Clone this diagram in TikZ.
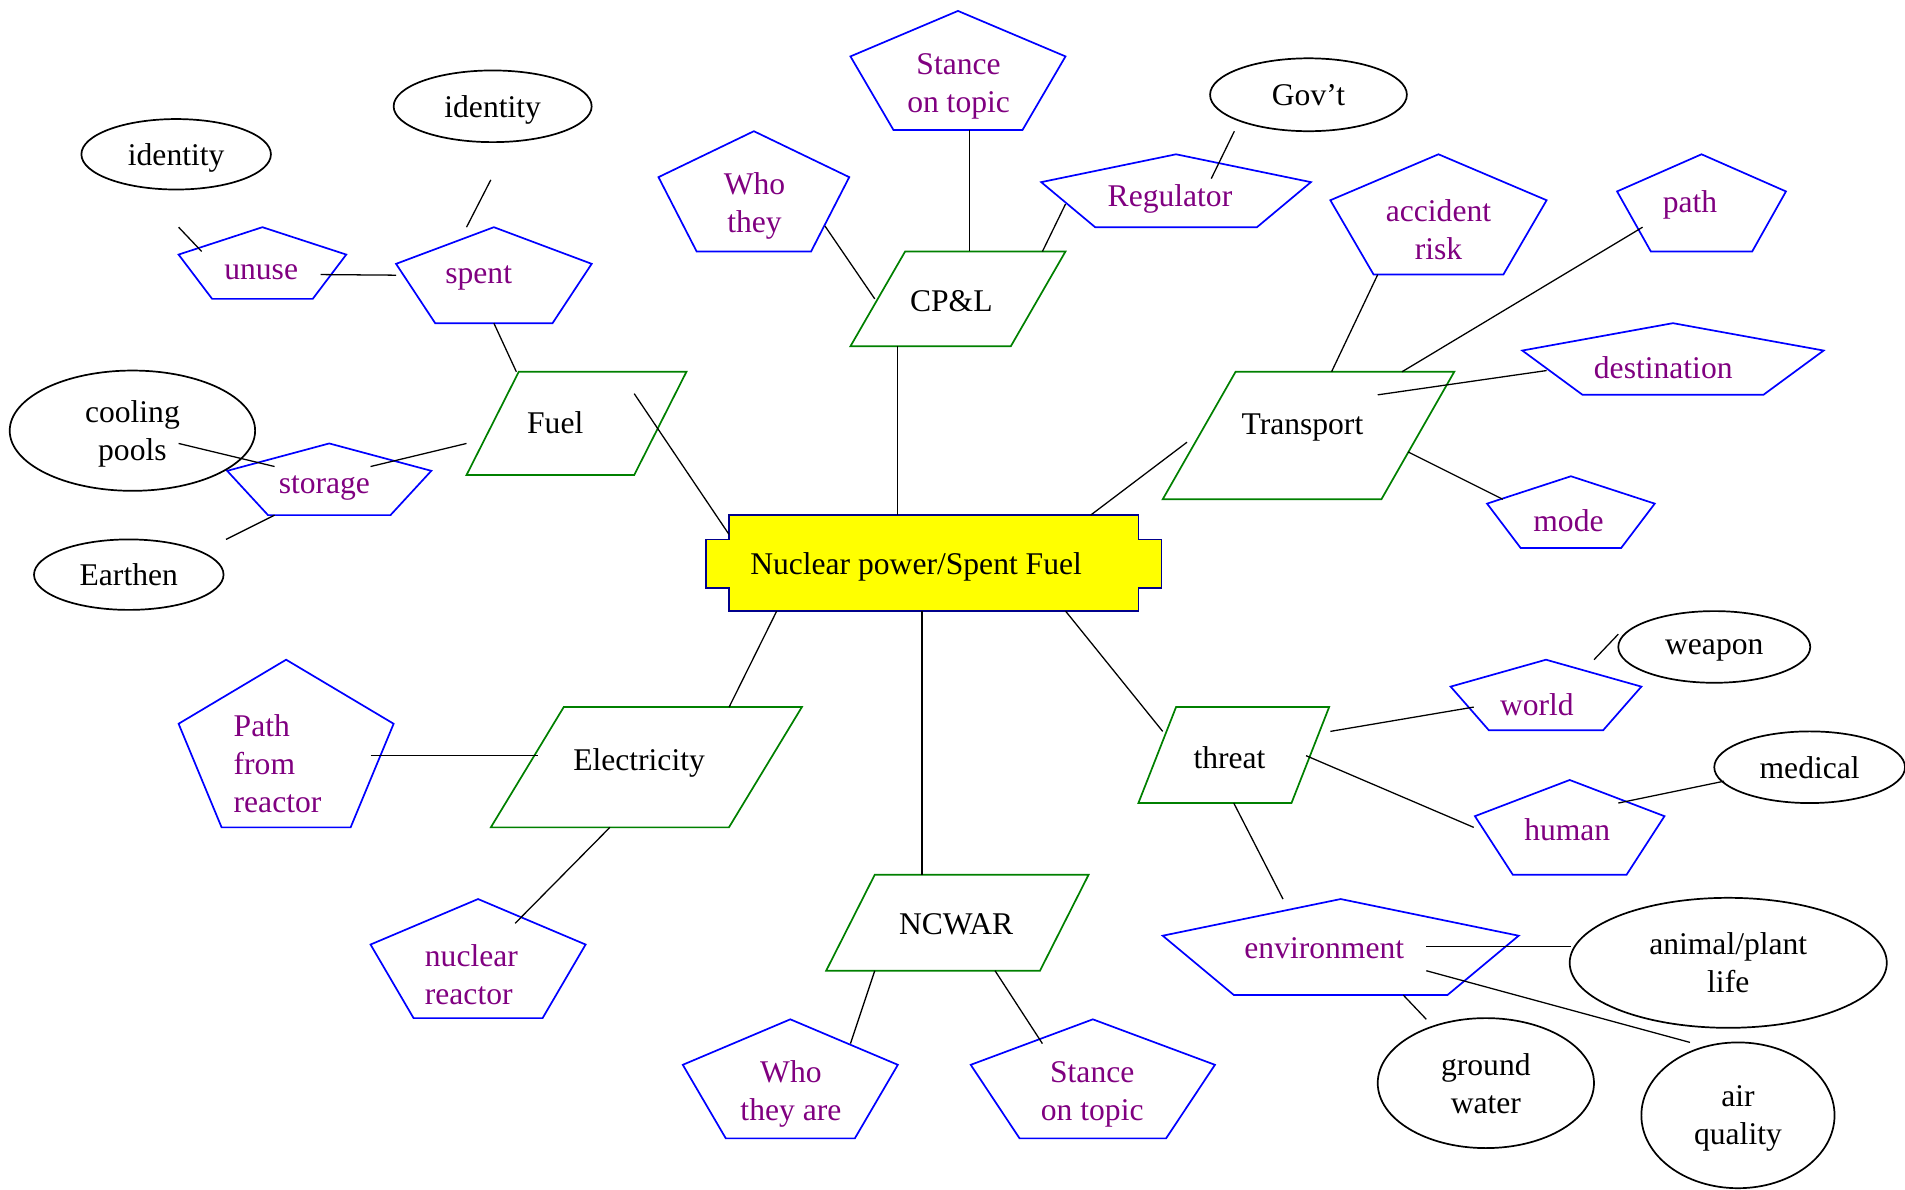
\documentclass[tikz,border=0pt]{standalone}
\usepackage{fontspec}
\setmainfont{Liberation Serif}
\usetikzlibrary{shapes.geometric,calc}

\definecolor{pentblue}{RGB}{0,0,255}
\definecolor{attrpurple}{RGB}{128,0,128}
\definecolor{paragreen}{RGB}{0,128,0}
\definecolor{npnavy}{RGB}{0,0,140}
\definecolor{npyellow}{RGB}{255,255,0}

% pentagon: [text opts] name, centre, width, height, text position, text
\newcommand\pent[7][]{%
  \node[shapebox, minimum width=#4*0.02cm, minimum height=#5*0.02cm] (#2) at (#3) {};
  \draw[pentline] (#2.north)
    -- ($(#2.north east)!.382!(#2.south east)$)
    -- ($(#2.south east)!.2!(#2.south west)$)
    -- ($(#2.south west)!.2!(#2.south east)$)
    -- ($(#2.north west)!.382!(#2.south west)$) -- cycle;
  \node[penttext,#1] (#2-txt) at (#6) {#7};
}
% parallelogram: name, centre, width, height, slant, text position, text
\newcommand\para[7]{%
  \node[shapebox, minimum width=#3*0.02cm, minimum height=#4*0.02cm] (#1) at (#2) {};
  \draw[paraline] ([xshift=#5*0.02cm]#1.north west) -- (#1.north east)
    -- ([xshift=-#5*0.02cm]#1.south east) -- (#1.south west) -- cycle;
  \node[paratext] (#1-txt) at (#6) {#7};
}

\begin{document}
\begin{tikzpicture}[x=0.02cm, y=-0.02cm,
  every node/.style = {font=\fontsize{14.8}{17.8}\selectfont},
  shapebox/.style = {draw=none, inner sep=0pt, outer sep=0pt},
  pentline/.style = {draw=pentblue, line width=0.8pt, line join=miter},
  penttext/.style = {text=attrpurple, align=center, inner sep=0pt, yshift=-1pt},
  paraline/.style = {draw=paragreen, line width=0.8pt},
  paratext/.style = {align=center, inner sep=0pt, yshift=-1pt},
  oval/.style = {shape=ellipse, draw, line width=0.8pt, align=center,
    inner sep=0pt, text depth=0pt},
  link/.style = {draw, line width=0.6pt}]
\useasboundingbox (0,0) rectangle (1568,979);

% central topic
\draw[fill=npyellow, draw=npnavy, line width=0.8pt] (600,424) -- (937,424) -- (937,444)
  -- (956,444) -- (956,484) -- (937,484) -- (937,503) -- (600,503) -- (600,484)
  -- (581,484) -- (581,444) -- (600,444) -- cycle;
\node[shapebox, minimum width=337*0.02cm, minimum height=79*0.02cm] (np) at (768.5,463.5) {};
\node[paratext] (np-txt) at (754,465) {Nuclear power/Spent Fuel};

% entities
\para{fuel}{474.5,348.5}{181}{85}{43}{457,346}{Fuel}
\para{cpl}{788.5,246}{177}{78}{45}{783,246}{CP\&L}
\para{tr}{1077,358.5}{240}{105}{60}{1072,350}{Transport}
\para{elec}{532,631.5}{256}{99}{60}{526,626}{Electricity}
\para{threat}{1015.5,621.5}{157}{79}{31}{1012,622}{threat}
\para{ncwar}{788,759.5}{216}{79}{40}{787,759}{NCWAR}

% attributes
\pent{unuse}{216,216.5}{138}{59}{215,222}{unuse}
\pent{spent}{406.5,226.5}{161}{79}{394,227}{spent}
\pent{storage}{271,394.5}{168}{59}{267,400}{storage}
\pent{who}{620.5,157.5}{157}{99}{621,167.5}{Who\\they}
\pent{stance}{788.5,58}{177}{98}{789,69}{Stance\\on topic}
\pent{reg}{968,157}{222}{60}{963,162}{Regulator}
\pent{acc}{1184,176.5}{178}{99}{1184,187.5}{accident\\risk}
\pent{tpath}{1400.5,167}{139}{80}{1391,167}{path}
\pent{dest}{1377,295.5}{248}{59}{1369,301}{destination}
\pent{mode}{1293,421.5}{138}{59}{1291,427}{mode}
\pent[anchor=west, align=left]{pfr}{235.5,612}{177}{138}{192,627}{Path\\from\\reactor}
\pent[align=left]{nucr}{393.5,789}{177}{98}{388,800.5}{nuclear\\reactor}
\pent{whoare}{650.5,888}{177}{98}{651,899}{Who\\they are}
\pent{stance2}{899.5,888}{201}{98}{899,899}{Stance\\on topic}
\pent{world}{1272.5,572}{157}{58}{1265,578}{world}
\pent{human}{1292,681}{156}{78}{1290,681}{human}
\pent{env}{1103.5,779.5}{293}{79}{1090,779}{environment}

% values
\node[oval, minimum width=156*0.02cm, minimum height=58*0.02cm] (idl) at (145,127) {identity};
\node[oval, minimum width=163*0.02cm, minimum height=59*0.02cm] (idt) at (405.5,87.5) {identity};
\node[oval, minimum width=202*0.02cm, minimum height=99*0.02cm] (cool) at (109,354.5) {cooling\\pools};
\node[oval, minimum width=156*0.02cm, minimum height=58*0.02cm] (earth) at (106,473) {Earthen};
\node[oval, minimum width=162*0.02cm, minimum height=60*0.02cm] (gov) at (1077,78) {Gov’t};
\node[oval, minimum width=158*0.02cm, minimum height=59*0.02cm] (weapon) at (1411,532.5) {weapon};
\node[oval, minimum width=157*0.02cm, minimum height=59*0.02cm] (medical) at (1489.5,631.5) {medical};
\node[oval, minimum width=261*0.02cm, minimum height=107*0.02cm] (animal) at (1422.5,792.5) {animal/plant\\life};
\node[oval, minimum width=178*0.02cm, minimum height=107*0.02cm] (ground) at (1223,891.5) {ground\\water};
\node[oval, minimum width=159*0.02cm, minimum height=120*0.02cm] (air) at (1430.5,918) {air\\quality};

% links to the topic
\draw[link] ($(fuel.center)+(47.5,-24.5)$) -- (np.172);
\draw[link] ($(cpl.center)+(-49.5,39)$) coordinate (cpl-np) -- (cpl-np |- np.north);
\draw[link] ($(tr.center)+(-100,5.5)$) -- (np.17);
\draw[link] (elec.36) -- (np.197);
\draw[link] ($(ncwar.center)+(-29,-39.5)$) coordinate (ncwar-np) -- (ncwar-np |- np.south);
\draw[link] ($(threat.center)+(-58.5,-19.5)$) -- (np.340);

% Fuel
\draw[link] (spent.south) -- ($(fuel.center)+(-49.5,-42.5)$);
\draw[link] ($(storage.center)+(34,-10.5)$) -- ($(fuel.center)+(-90.5,16.5)$);
\draw[link] ($(unuse.center)+(48,9.5)$) -- (spent.west);
\draw[link] ($(idl.center)+(2,60)$) -- ($(unuse.center)+(-50,-9.5)$);
\draw[link] ($(spent.center)+(-22.5,-39.5)$) -- ($(idt.center)+(-1.5,60.5)$);
\draw[link] ($(cool.center)+(38,10.5)$) -- ($(storage.center)+(-45,-10.5)$);
\draw[link] ($(earth.center)+(80,-29)$) -- ($(storage.center)+(-45,29.5)$);

% CP&L
\draw[link] ($(who.center)+(58.5,28.5)$) -- ($(cpl.center)+(-68.5,0)$);
\draw[link] ($(stance.south)+(9.5,0)$) coordinate (st-cpl) -- (st-cpl |- cpl.north);
\draw[link] ($(reg.center)+(-91,11)$) -- ($(cpl.center)+(69.5,-39)$);
\draw[link] ($(reg.center)+(29,-10)$) -- ($(gov.center)+(-61,30)$);

% Transport
\draw[link] ($(acc.center)+(-50,49.5)$) -- ($(tr.center)+(19,-52.5)$);
\draw[link] ($(tpath.center)+(-48.5,20)$) -- ($(tr.center)+(77,-52.5)$);
\draw[link] ($(dest.center)+(-104,9.5)$) -- ($(tr.center)+(57,-33.5)$);
\draw[link] ($(mode.center)+(-56,-10.5)$) -- ($(tr.center)+(82,13.5)$);

% Electricity and NCWAR
\draw[link] ($(pfr.center)+(69.5,10)$) -- ($(elec.center)+(-89,-9.5)$);
\draw[link] ($(elec.center)+(-30,49.5)$) -- ($(nucr.center)+(30.5,-29)$);
\draw[link] ($(ncwar.center)+(-68,39.5)$) -- ($(whoare.center)+(49.5,-29)$);
\draw[link] ($(ncwar.center)+(31,39.5)$) -- ($(stance2.center)+(-41.5,-29)$);

% threat
\draw[link] ($(threat.center)+(79.5,-19.5)$) -- ($(world.center)+(-59.5,10)$);
\draw[link] ($(threat.center)+(59.5,0.5)$) -- ($(human.center)+(-79,0)$);
\draw[link] (threat.south) -- ($(env.center)+(-47.5,-39.5)$);
\draw[link] ($(world.center)+(39.5,-29)$) -- ($(weapon.center)+(-79,-10.5)$);
\draw[link] ($(human.center)+(40,-20)$) -- ($(medical.center)+(-70.5,11.5)$);
\draw[link] ($(env.center)+(70.5,-0.5)$) -- ($(animal.center)+(-129.5,-13.5)$);
\draw[link] ($(env.center)+(70.5,19.5)$) -- ($(air.center)+(-39.5,-60)$);
\draw[link] ($(env.center)+(51.5,39.5)$) -- ($(ground.center)+(-49,-52.5)$);
\end{tikzpicture}
\end{document}
